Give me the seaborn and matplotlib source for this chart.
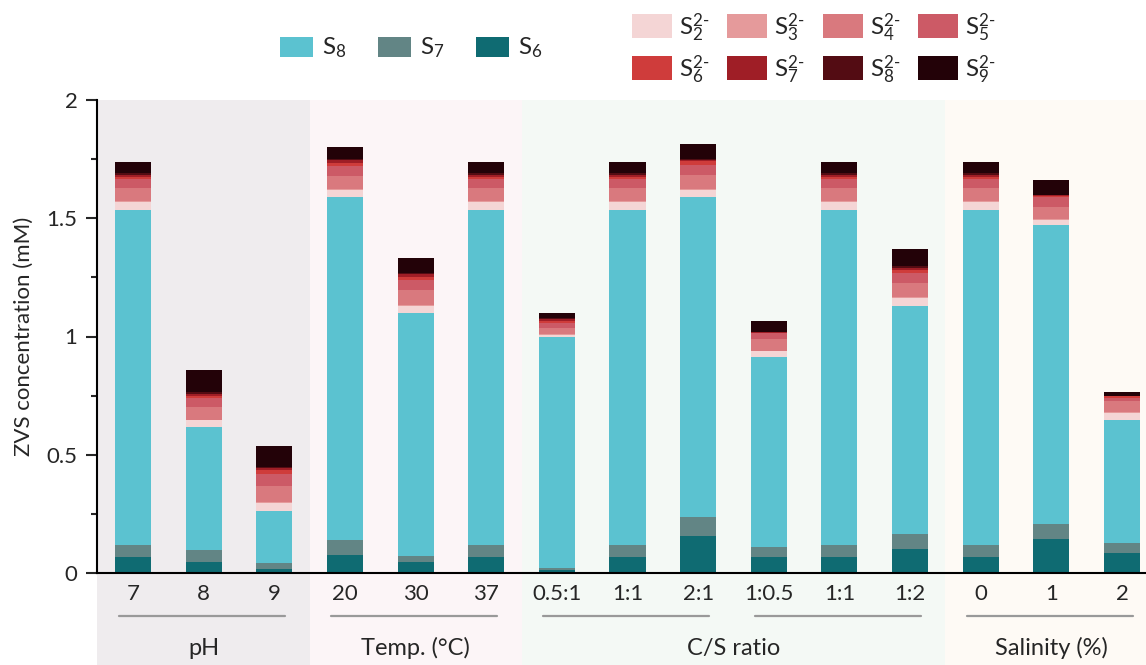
import numpy as np
import pandas as pd
import matplotlib
matplotlib.use("Agg")
import matplotlib.pyplot as plt
import seaborn as sns
from matplotlib.patches import Rectangle
from matplotlib.ticker import MultipleLocator, AutoMinorLocator
import matplotlib.transforms as mtransforms

# ---------------- data ----------------
conditions = ["7", "8", "9", "20", "30", "37", "0.5:1", "1:1", "2:1",
              "1:0.5", "1:1", "1:2", "0", "1", "2"]
groups = ["pH", "Temp. (°C)", "C/S ratio", "Salinity (%)"]
group_sizes = [3, 3, 6, 3]
subgroups = [(0, 2), (3, 5), (6, 8), (9, 11), (12, 14)]  # underline spans (bar index)

S6 = [0.068, 0.047, 0.017, 0.076, 0.047, 0.068, 0.013, 0.068, 0.156, 0.068, 0.068, 0.101, 0.068, 0.144, 0.085]
S7 = [0.050, 0.049, 0.025, 0.064, 0.025, 0.050, 0.008, 0.050, 0.081, 0.042, 0.050, 0.065, 0.050, 0.063, 0.040]
S8 = [1.418, 0.521, 0.220, 1.450, 1.027, 1.418, 0.976, 1.418, 1.353, 0.803, 1.418, 0.963, 1.418, 1.264, 0.522]
S2m = [0.031, 0.030, 0.035, 0.031, 0.030, 0.031, 0.011, 0.031, 0.029, 0.024, 0.031, 0.034, 0.031, 0.022, 0.030]
S3m = [0.005, 0.002, 0.004, 0.003, 0.004, 0.005, 0.003, 0.005, 0.004, 0.002, 0.005, 0.004, 0.005, 0.004, 0.003]
S4m = [0.057, 0.052, 0.067, 0.055, 0.064, 0.057, 0.025, 0.057, 0.060, 0.050, 0.057, 0.059, 0.057, 0.051, 0.047]
S5m = [0.037, 0.039, 0.051, 0.042, 0.042, 0.037, 0.021, 0.037, 0.042, 0.024, 0.037, 0.041, 0.037, 0.041, 0.014]
S6m = [0.010, 0.010, 0.017, 0.014, 0.013, 0.010, 0.009, 0.010, 0.015, 0.002, 0.010, 0.014, 0.010, 0.005, 0.006]
S7m = [0.008, 0.008, 0.010, 0.010, 0.012, 0.008, 0.006, 0.008, 0.006, 0.002, 0.008, 0.010, 0.008, 0.003, 0.002]
S8m = [0.009, 0.006, 0.004, 0.005, 0.004, 0.009, 0.007, 0.009, 0.004, 0.002, 0.009, 0.007, 0.009, 0.001, 0.001]
S9m = [0.045, 0.094, 0.087, 0.051, 0.064, 0.045, 0.020, 0.045, 0.064, 0.047, 0.045, 0.072, 0.045, 0.064, 0.015]

neutral_labels = ["S$_8$", "S$_7$", "S$_6$"]
poly_labels = ["S$_2^{2\u2010}$", "S$_3^{2\u2010}$", "S$_4^{2\u2010}$", "S$_5^{2\u2010}$",
               "S$_6^{2\u2010}$", "S$_7^{2\u2010}$", "S$_8^{2\u2010}$", "S$_9^{2\u2010}$"]

# ---------------- style ----------------
c_S8, c_S7, c_S6 = "#5bc2d0", "#628585", "#0f6b72"
poly_colors = ["#f4d5d5", "#e59a9b", "#d9797e", "#cc5a66",
               "#cf3c3b", "#9f1e26", "#530c13", "#230208"]
bg_colors = ["#efecee", "#fcf5f7", "#f4f9f5", "#fefaf5"]

sns.set_style("ticks")
plt.rcParams["font.family"] = ["Lato", "DejaVu Sans"]
plt.rcParams["mathtext.fontset"] = "custom"
plt.rcParams["mathtext.rm"] = "Lato"
plt.rcParams["mathtext.it"] = "Lato"
plt.rcParams["mathtext.bf"] = "Lato"
plt.rcParams["mathtext.default"] = "regular"

W, H = 1146, 665
fig = plt.figure(figsize=(W / 100, H / 100), dpi=100)
ax = fig.add_axes([97 / W, 1 - 573 / H, 1 - 97 / W, 473 / H])

ids = [f"b{i}" for i in range(len(conditions))]
layers = [S6, S7, S8, S2m, S3m, S4m, S5m, S6m, S7m, S8m, S9m]
layer_colors = [c_S6, c_S7, c_S8] + poly_colors
cum = np.cumsum(np.array(layers), axis=0)

for k in reversed(range(len(layers))):
    df = pd.DataFrame({"id": ids, "val": cum[k]})
    sns.barplot(data=df, x="id", y="val", order=ids, color=layer_colors[k],
                width=0.51, saturation=1, linewidth=0, errorbar=None,
                ax=ax, zorder=2)

n = len(conditions)
xmin, xmax = -0.51, n - 0.66
ax.set_xlim(xmin, xmax)
ax.set_ylim(0, 2)

# background shading (extends below axis)
edges = np.concatenate([[xmin], np.cumsum(group_sizes)[:-1] - 0.5, [xmax]])
for i, col in enumerate(bg_colors):
    ax.axvspan(edges[i], edges[i + 1], ymin=-0.25, ymax=1, color=col,
               zorder=0, clip_on=False, lw=0)

# axes styling
for s in ["top", "right"]:
    ax.spines[s].set_visible(False)
for s in ["left", "bottom"]:
    ax.spines[s].set_linewidth(1.5)
    ax.spines[s].set_color("black")
    ax.spines[s].set_zorder(5)

ax.yaxis.set_major_locator(MultipleLocator(0.5))
ax.yaxis.set_minor_locator(AutoMinorLocator(2))
ax.set_yticks([0, 0.5, 1, 1.5, 2])
ax.set_yticklabels(["0", "0.5", "1", "1.5", "2"])
ax.tick_params(axis="y", which="major", length=8, width=1.5, labelsize=16, pad=6)
ax.tick_params(axis="y", which="minor", length=4.5, width=1.5)
ax.set_xticks(range(n))
ax.set_xticklabels(conditions)
ax.tick_params(axis="x", length=0, labelsize=16, pad=8)
ax.set_xlabel("")
ax.set_ylabel("ZVS concentration (mM)", fontsize=16, labelpad=9)

# group underlines and labels
trans = mtransforms.blended_transform_factory(ax.transData, ax.transAxes)
for a, b in subgroups:
    ax.plot([a - 0.2, b + 0.15], [-0.091, -0.091], color="#999999", lw=1.6,
            transform=trans, clip_on=False, zorder=3)
start = 0
for g, size in zip(groups, group_sizes):
    center = start + (size - 1) / 2
    ax.text(center, -0.159, g, transform=trans, ha="center", va="center",
            fontsize=17)
    start += size


# legends (placed in pixel coordinates of the figure)
def legend_entry(x, y_top, w, h, color, label, text_dx, baseline, fs):
    fig.add_artist(Rectangle((x / W, 1 - (y_top + h) / H), w / W, h / H,
                             transform=fig.transFigure, facecolor=color,
                             edgecolor="none"))
    fig.text((x + text_dx) / W, 1 - baseline / H, label, fontsize=fs,
             ha="left", va="baseline")


for i, (c, lab) in enumerate(zip([c_S8, c_S7, c_S6], neutral_labels)):
    legend_entry(280 + 98 * i, 37, 33, 20, c, lab, 42, 54, 17.5)

for i, (c, lab) in enumerate(zip(poly_colors, poly_labels)):
    row, col = divmod(i, 4)
    legend_entry(632 + 95.3 * col, 14 + 42 * row, 40, 24, c, lab, 47,
                 36 + 42 * row, 17.5)

fig.savefig("out.png", dpi=100, facecolor="white")
